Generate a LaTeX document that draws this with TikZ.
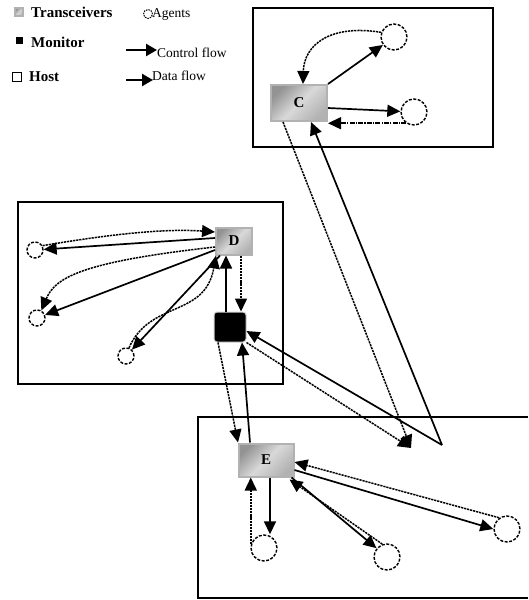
\documentclass[tikz,border=0pt]{standalone}
\usepackage{fontspec}
\setmainfont{Liberation Serif}
\usetikzlibrary{arrows.meta}
\begin{document}
\begin{tikzpicture}[x=1pt,y=-1pt,
 tip/.style={-{Triangle[length=13pt,width=12pt]}},
 ctrl/.style={line width=1.7pt, tip},
 data/.style={line width=1.5pt, dash pattern=on 2.2pt off 0.9pt, tip},
 datadd/.style={line width=1.5pt, dash pattern=on 5pt off 1.2pt on 1.2pt off 1.2pt, tip},
 hostbox/.style={draw, line width=1.9pt},
 trans/.style={draw=gray!60, line width=2pt, top color=gray!85, bottom color=gray!60, middle color=gray!30, shading angle=45, inner sep=0pt, font=\bfseries\fontsize{15}{15}\selectfont},
 monitor/.style={fill=black, draw=gray!35, line width=1pt, rounded corners=3pt, inner sep=0pt},
 agent/.style={circle, draw, dash pattern=on 3pt off 1.5pt, line width=1.4pt, inner sep=0pt},
 legL/.style={anchor=west, inner sep=0pt, font=\bfseries\fontsize{15}{15}\selectfont},
 legR/.style={anchor=west, inner sep=0pt, font=\fontsize{13.5}{13.5}\selectfont}]
\useasboundingbox (0,0) rectangle (528,600);

% legend
\node[trans, line width=1.2pt, minimum size=8pt] (lt) at (19,12) {};
\node[legL] (ltt) at (31,12) {Transceivers};
\node[agent, line width=1pt, dash pattern=on 1.5pt off 1pt, minimum size=9pt] (la) at (148,14) {};
\node[legR] (lat) at (152,14) {Agents};
\node[fill=black, minimum size=7pt, inner sep=0pt] (lm) at (19,40) {};
\node[legL] (lmt) at (31,42) {Monitor};
\coordinate (lc1) at (126,50);
\coordinate (lc2) at (157,50);
\draw[line width=2.4pt, -{Triangle[length=11pt,width=12pt]}] (lc1) -- (lc2);
\node[legR] (lct) at (157,53) {Control flow};
\node[draw, line width=1.8pt, minimum size=9pt, inner sep=0pt] (lh) at (17,77) {};
\node[legL] (lht) at (29,77) {Host};
\coordinate (ld1) at (126,80);
\coordinate (ld2) at (153,80);
\draw[line width=2.4pt, -{Triangle[length=11pt,width=12pt]}] (ld1) -- (ld2);
\node[legR] (ldt) at (152,76) {Data flow};

% hosts
\draw[hostbox] (253,8) rectangle (493,147);
\draw[hostbox] (18,202) rectangle (283,384);
\draw[hostbox] (528,417) -- (198,417) -- (198,598) -- (528,598);

% transceivers and monitor
\node[trans, minimum width=56pt, minimum height=36pt] (C) at (299,103) {C};
\node[trans, minimum width=36pt, minimum height=27pt] (D) at (234,241) {D};
\node[monitor, minimum width=32pt, minimum height=30pt] (Mon) at (230,327) {};
\node[trans, minimum width=55pt, minimum height=33pt] (E) at (266,460) {E};

% agents
\node[agent, minimum size=26pt] (Ca1) at (394,37) {};
\node[agent, minimum size=26pt] (Ca2) at (414,112) {};
\node[agent, minimum size=16pt] (Da1) at (35,250) {};
\node[agent, minimum size=16pt] (Da2) at (37,318) {};
\node[agent, minimum size=16pt] (Da3) at (126,356) {};
\node[agent, minimum size=26pt] (Ea1) at (264,548) {};
\node[agent, minimum size=26pt] (Ea2) at (387,557) {};
\node[agent, minimum size=26pt] (Ea3) at (507,529) {};

% relay points
\coordinate (r1) at (411,448);
\coordinate (r2) at (442,445);

% C host
\draw[ctrl] (C.north east) -- (Ca1);
\draw[data] (Ca1.160) .. controls (330,24) and (304,45) .. ([xshift=4pt]C.north);
\draw[ctrl] ([yshift=-5pt]C.east) -- (Ca2);
\draw[datadd] (Ca2.235) -- (C.east |- Ca2.235);
\draw[data] ([xshift=-16pt]C.south) -- (r1);
\draw[ctrl] (r2) -- ([xshift=12pt]C.south);

% D host
\draw[data] (Da1.30) .. controls (100,236) and (160,228) .. ([yshift=9pt]D.west);
\draw[ctrl] ([yshift=3pt]D.west) -- (Da1);
\draw[data] ([yshift=-6pt]D.west) .. controls (80,262) and (55,278) .. (Da2.60);
\draw[ctrl] ([yshift=-9pt]D.west) -- (Da2);
\draw[ctrl] ([xshift=5pt]D.south west) -- (Da3);
\draw[data] (Da3.70) .. controls (150,300) and (205,318) .. ([xshift=1pt]D.south west);
\draw[ctrl] ([xshift=-4pt]Mon.north) -- ([xshift=-4pt]Mon.north |- D.south);
\draw[data] ([xshift=7pt]D.south) -- ([xshift=7pt]D.south |- Mon.north);

% monitor links
\draw[data] ([xshift=-12pt]Mon.south) -- ([xshift=-28pt]E.north);
\draw[ctrl] ([xshift=-16pt]E.north) -- ([xshift=12pt]Mon.south);
\draw[ctrl] (r2) -- ([yshift=-4pt]Mon.east);
\draw[data] (Mon.south east) -- (r1);

% E host
\draw[data] (Ea1.165) -- (Ea1.165 |- E.south);
\draw[ctrl] ([xshift=4pt]E.south) -- ([xshift=4pt]E.south |- Ea1.north);
\draw[ctrl] ([xshift=-3pt]E.south east) -- (Ea2.140);
\draw[data] (Ea2.110) -- ([xshift=-5pt,yshift=-2pt]E.south east);
\draw[ctrl] ([yshift=-10pt]E.east) -- (Ea3.west);
\draw[data] (Ea3.125) -- ([yshift=-2pt]E.east);
\end{tikzpicture}
\end{document}
